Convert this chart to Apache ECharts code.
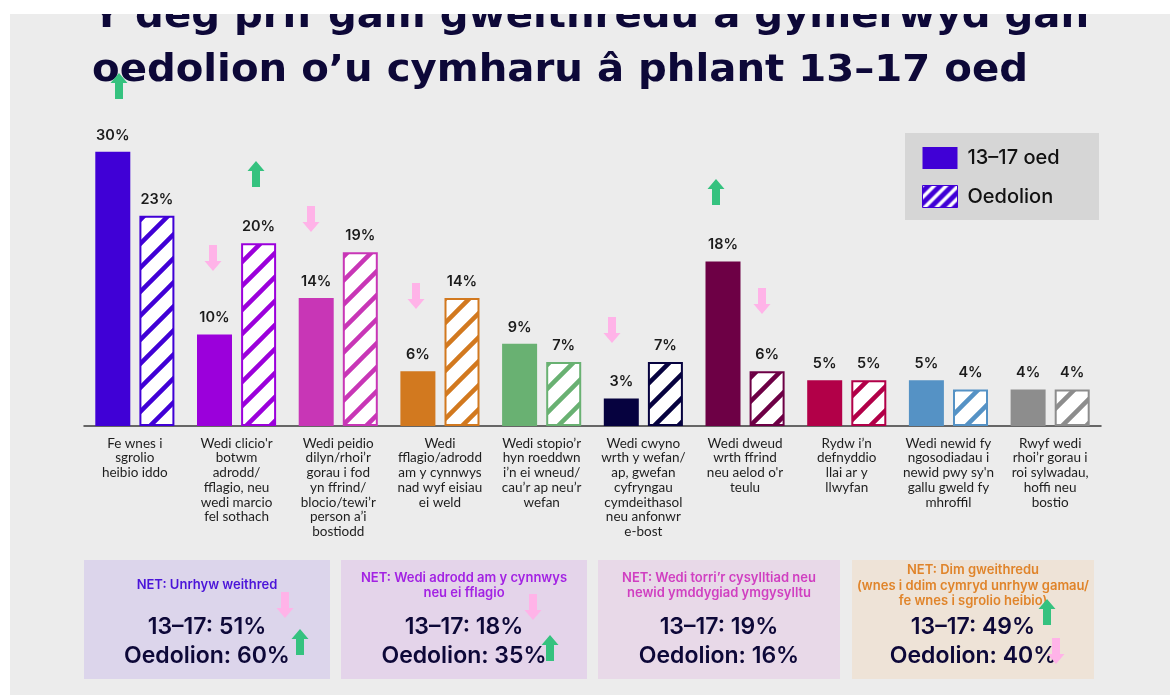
<!DOCTYPE html>
<html>
<head>
<meta charset="utf-8">
<script src="https://cdn.jsdelivr.net/npm/echarts@6/dist/echarts.min.js"></script>
<style>
  html, body { margin: 0; padding: 0; background: #ffffff; }
  #chart { width: 1170px; height: 695px; }
</style>
</head>
<body>
<div id="chart"></div>
<script>
// ---- data ----
const titleLines = [
  'Y deg prif gam gweithredu a gymerwyd gan',
  'oedolion o’u cymharu â phlant 13–17 oed'
];
const seriesNames = ['13–17 oed', 'Oedolion'];
const categories = [
  'Fe wnes i\nsgrolio\nheibio iddo',
  "Wedi clicio'r\nbotwm\nadrodd/\nfflagio, neu\nwedi marcio\nfel sothach",
  'Wedi peidio\ndilyn/rhoi’r\ngorau i fod\nyn ffrind/\nblocio/tewi’r\nperson a’i\nbostiodd',
  'Wedi\nfflagio/adrodd\nam y cynnwys\nnad wyf eisiau\nei weld',
  'Wedi stopio’r\nhyn roeddwn\ni’n ei wneud/\ncau’r ap neu’r\nwefan',
  'Wedi cwyno\nwrth y wefan/\nap, gwefan\ncyfryngau\ncymdeithasol\nneu anfonwr\ne-bost',
  "Wedi dweud\nwrth ffrind\nneu aelod o'r\nteulu",
  'Rydw i’n\ndefnyddio\nllai ar y\nllwyfan',
  "Wedi newid fy\nngosodiadau i\nnewid pwy sy'n\ngallu gweld fy\nmhroffil",
  'Rwyf wedi\nrhoi’r gorau i\nroi sylwadau,\nhoffi neu\nbostio'
];
const teenValues  = [30, 10, 14, 6, 9, 3, 18, 5, 5, 4];
const adultValues = [23, 20, 19, 14, 7, 7, 6, 5, 4, 4];
const barColors = ['#4000d6', '#9b00db', '#c836b6', '#d2791f', '#69b172',
                   '#06023f', '#6d0045', '#b20048', '#5592c5', '#8d8d8d'];

const netTitles = [
  'NET: Unrhyw weithred',
  'NET: Wedi adrodd am y cynnwys\nneu ei fflagio',
  'NET: Wedi torri’r cysylltiad neu\nnewid ymddygiad ymgysylltu',
  'NET: Dim gweithredu\n(wnes i ddim cymryd unrhyw gamau/\nfe wnes i sgrolio heibio)'
];
const netTeen  = [51, 18, 19, 49];
const netAdult = [60, 35, 16, 40];
const netTitleColors = ['#4b14d9', '#a322e3', '#d03fc1', '#e0842a'];
const netBoxColors   = ['#dcd5eb', '#e4d4ea', '#e8d9e8', '#eee3d7'];

// ---- styling helpers ----
const INK = '#0d0838';
const TITLE_FONT = 'bold 37px "DejaVu Sans"';
const TITLE_X = 92, TITLE_LINE2_WIDTH = 936;

// diagonal "/" stripe pattern
function hatch(color, size, width, ground) {
  const c = document.createElement('canvas');
  c.width = size; c.height = size;
  const ctx = c.getContext('2d');
  ctx.fillStyle = ground;
  ctx.fillRect(0, 0, size, size);
  ctx.strokeStyle = color;
  ctx.lineWidth = width;
  ctx.beginPath();
  ctx.moveTo(0, size); ctx.lineTo(size, 0);
  ctx.moveTo(-size / 2, size / 2); ctx.lineTo(size / 2, -size / 2);
  ctx.moveTo(size / 2, size * 1.5); ctx.lineTo(size * 1.5, size / 2);
  ctx.stroke();
  return { image: c, repeat: 'repeat' };
}

function arrow(cx, top, dir, fill) {
  const h = 26, hh = 10, hw = 8.5, sw = 4;
  let pts;
  if (dir === 'up') {
    pts = [[cx, top], [cx + hw, top + hh], [cx + sw, top + hh], [cx + sw, top + h],
           [cx - sw, top + h], [cx - sw, top + hh], [cx - hw, top + hh]];
  } else {
    const b = top + h;
    pts = [[cx, b], [cx + hw, b - hh], [cx + sw, b - hh], [cx + sw, top],
           [cx - sw, top], [cx - sw, b - hh], [cx - hw, b - hh]];
  }
  return { type: 'polygon', z: 50, shape: { points: pts }, style: { fill: fill } };
}

function txt(x, y, text, font, fill, align) {
  align = align || 'center';
  return {
    type: 'text', z: 20,
    style: {
      x: x, y: y, text: text, font: font, fill: fill,
      align: align, verticalAlign: 'middle',
      textAlign: align, textVerticalAlign: 'middle'
    }
  };
}

const GREEN = '#35c27f', PINK = '#ffb3e8';

// change indicators
const arrows = [
  [119, 73, 'up'], [256, 161, 'up'], [716, 179, 'up'],
  [213, 245, 'down'], [311, 206, 'down'], [416, 283, 'down'],
  [612, 317, 'down'], [762, 288, 'down'],
  [285, 592, 'down'], [300, 629, 'up'],
  [533, 594, 'down'], [550, 635, 'up'],
  [1047, 599, 'up'], [1056, 638, 'down']
];

// widen the title face so the second line spans its column
const measureCtx = document.createElement('canvas').getContext('2d');
measureCtx.font = TITLE_FONT;
const titleScale = TITLE_LINE2_WIDTH / measureCtx.measureText(titleLines[1]).width;

// ---- graphic layer ----
const graphics = [];
graphics.push({ type: 'rect', z: -10, shape: { x: 10, y: 14, width: 1160, height: 681 }, style: { fill: '#ececec' } });

// title
[17, 71].forEach((y, i) => {
  const t = txt(0, 0, titleLines[i], TITLE_FONT, INK, 'left');
  t.x = TITLE_X; t.y = y; t.scaleX = titleScale;
  graphics.push(t);
});
graphics.push({ type: 'rect', z: 40, shape: { x: 0, y: 0, width: 1170, height: 14 }, style: { fill: '#ffffff' } });
graphics.push({ type: 'rect', z: 40, shape: { x: 0, y: 0, width: 10, height: 695 }, style: { fill: '#ffffff' } });

// legend panel
graphics.push({ type: 'rect', z: -5, shape: { x: 905, y: 133, width: 194, height: 87 }, style: { fill: '#d6d6d6' } });

// NET summary boxes
const boxX = [84, 341, 598, 852], boxW = [246, 246, 242, 242];
const titleY = [585, 585.5, 585.5, 586];
netTitles.forEach((t, i) => {
  const cx = boxX[i] + boxW[i] / 2;
  graphics.push({ type: 'rect', z: -5, shape: { x: boxX[i], y: 560, width: boxW[i], height: 119 }, style: { fill: netBoxColors[i] } });
  const tt = txt(cx, titleY[i], t, '600 13px Inter', netTitleColors[i]);
  tt.style.lineHeight = 15.5;
  graphics.push(tt);
  graphics.push(txt(cx, 627, '13–17: ' + netTeen[i] + '%', '600 23px Inter', INK));
  graphics.push(txt(cx, 656, 'Oedolion: ' + netAdult[i] + '%', '600 23px Inter', INK));
});

arrows.forEach(a => graphics.push(arrow(a[0], a[1], a[2], a[2] === 'up' ? GREEN : PINK)));

// ---- chart ----
const labelStyle = {
  show: true, position: 'top', distance: 9,
  formatter: '{c}%', fontFamily: 'Inter', fontSize: 14.5, fontWeight: 600, color: '#1b1b1b'
};

const chart = echarts.init(document.getElementById('chart'), null, { renderer: 'canvas' });
chart.setOption({
  animation: false,
  backgroundColor: '#ffffff',
  grid: { left: 84, right: 69, top: 97, bottom: 269, containLabel: false },
  legend: {
    orient: 'vertical', left: 922, top: 147, padding: 0,
    itemWidth: 35, itemHeight: 22, itemGap: 16, icon: 'rect',
    textStyle: { fontFamily: 'Inter', fontSize: 20, fontWeight: 500, color: '#111111', padding: [0, 0, 0, 5] },
    data: [
      { name: seriesNames[0], itemStyle: { color: barColors[0], borderWidth: 0 } },
      { name: seriesNames[1], itemStyle: { color: hatch('#ffffff', 12, 3.5, barColors[0]), borderColor: barColors[0], borderWidth: 1 } }
    ]
  },
  xAxis: {
    type: 'category', data: categories,
    axisLine: { lineStyle: { color: '#3a3a3a', width: 1.5 } },
    axisTick: { show: false },
    axisLabel: {
      interval: 0, margin: 10, fontFamily: 'Lato', fontSize: 13.5,
      lineHeight: 14.7, color: '#1e1e1e', align: 'center', verticalAlign: 'top'
    }
  },
  yAxis: { type: 'value', min: 0, max: 36, show: false, splitLine: { show: false } },
  graphic: { elements: graphics },
  series: [
    {
      name: seriesNames[0], type: 'bar', barWidth: 35, barGap: '26%',
      itemStyle: { color: barColors[0] },
      label: labelStyle,
      data: teenValues.map((v, i) => ({ value: v, itemStyle: { color: barColors[i] } }))
    },
    {
      name: seriesNames[1], type: 'bar', barWidth: 35, barGap: '26%',
      itemStyle: { color: hatch(barColors[0], 24, 4.5, '#ffffff'), borderColor: barColors[0], borderWidth: 2 },
      label: labelStyle,
      data: adultValues.map((v, i) => ({
        value: v,
        itemStyle: { color: hatch(barColors[i], 24, 4.5, '#ffffff'), borderColor: barColors[i], borderWidth: 2 }
      }))
    }
  ]
});
</script>
</body>
</html>
